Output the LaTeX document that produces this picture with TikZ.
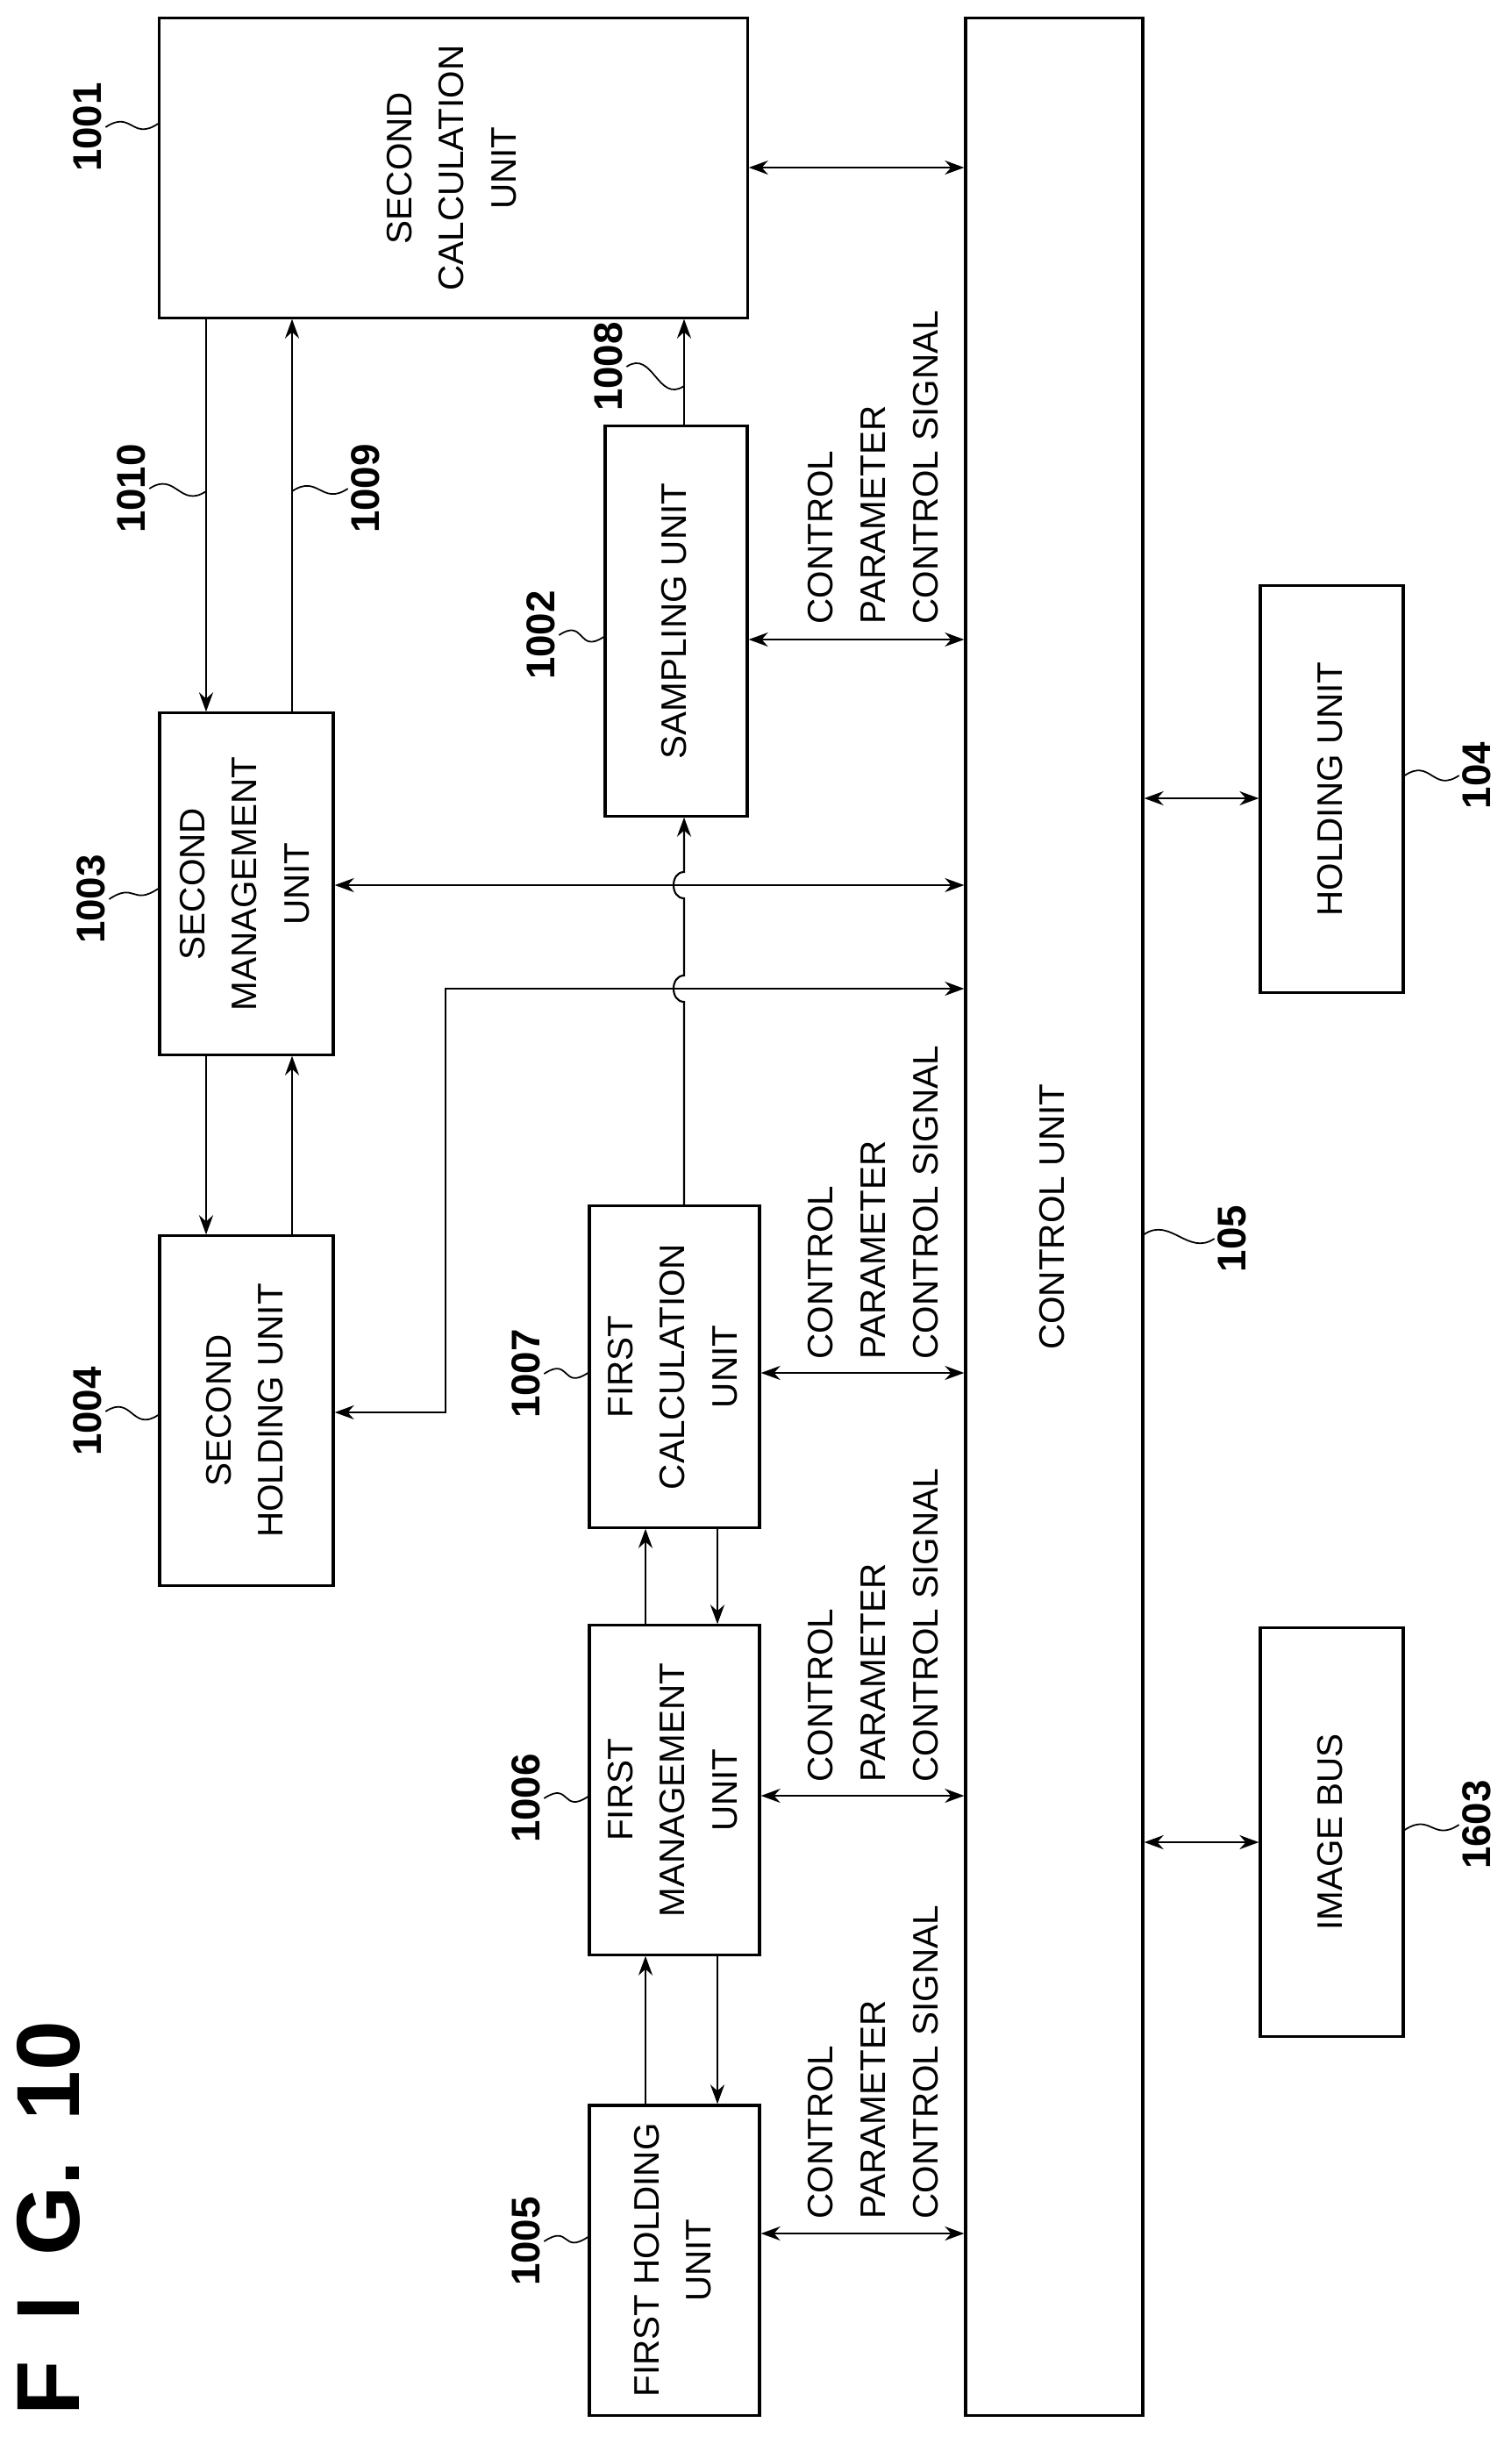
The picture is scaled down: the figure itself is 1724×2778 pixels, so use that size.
\documentclass[tikz,border=0pt]{standalone}
\usepackage{fontspec}
\setmainfont{Liberation Sans}
\usetikzlibrary{arrows.meta}
\tikzset{
  box/.style={draw,line width=0.9pt,inner sep=0pt,align=center},
  arr/.style={line width=0.6pt,-{Stealth[length=2.2mm,width=1.6mm]}},
  dbl/.style={line width=0.6pt,{Stealth[length=2.2mm,width=1.6mm]}-{Stealth[length=2.2mm,width=1.6mm]}},
  num/.style={inner sep=1pt,font=\fontsize{13}{15}\selectfont\bfseries},
  lead/.style={line width=0.5pt},
  sig/.style={inner sep=0pt,anchor=south east}
}
\newcommand{\vtext}[1]{\rotatebox{90}{\begin{tabular}{@{}c@{}}#1\end{tabular}}}
\newcommand{\sigtext}{\rotatebox{90}{\begin{tabular}{@{}l@{}}CONTROL\\PARAMETER\\CONTROL SIGNAL\end{tabular}}}
\begin{document}
\begin{tikzpicture}[x=0.01cm,y=-0.01cm,font=\fontsize{11.5}{17}\selectfont]
\useasboundingbox (0,0) rectangle (1724,2778);

% blocks
\node[box,minimum width=6.7cm,minimum height=3.41cm] (n1001) at (517,191.5) {\vtext{SECOND\\CALCULATION\\UNIT}};
\node[box,minimum width=2.02cm,minimum height=27.32cm] (n105) at (1202,1387) {\vtext{CONTROL UNIT}};
\node[box,minimum width=1.62cm,minimum height=4.44cm] (n1002) at (771,708) {\vtext{SAMPLING UNIT}};
\node[box,minimum width=1.98cm,minimum height=3.89cm] (n1003) at (281,1007.5) {\vtext{SECOND\\MANAGEMENT\\UNIT}};
\node[box,minimum width=1.98cm,minimum height=3.98cm] (n1004) at (281,1608) {\vtext{SECOND\\HOLDING UNIT}};
\node[box,minimum width=1.94cm,minimum height=3.66cm] (n1007) at (769,1558) {\vtext{FIRST\\CALCULATION\\UNIT}};
\node[box,minimum width=1.94cm,minimum height=3.75cm] (n1006) at (769,2040.5) {\vtext{FIRST\\MANAGEMENT\\UNIT}};
\node[box,minimum width=1.94cm,minimum height=3.53cm] (n1005) at (769,2576.5) {\vtext{FIRST HOLDING\\UNIT}};
\node[box,minimum width=1.63cm,minimum height=4.63cm] (n104) at (1518.5,899.5) {\vtext{HOLDING UNIT}};
\node[box,minimum width=1.63cm,minimum height=4.65cm] (n1603) at (1518.5,2088.5) {\vtext{IMAGE BUS}};

% signal labels
\node[sig] (s1002) at (1088,712) {\sigtext};
\node[sig] (s1007) at (1088,1550) {\sigtext};
\node[sig] (s1006) at (1088,2032) {\sigtext};
\node[sig] (s1005) at (1088,2530) {\sigtext};

% reference numbers
\node[num] (l1001) at (100,145) {\rotatebox{90}{1001}};
\node[num] (l1010) at (150,557) {\rotatebox{90}{1010}};
\node[num] (l1009) at (417,557) {\rotatebox{90}{1009}};
\node[num] (l1008) at (694,418) {\rotatebox{90}{1008}};
\node[num] (l1002) at (617,724) {\rotatebox{90}{1002}};
\node[num] (l1003) at (104,1025) {\rotatebox{90}{1003}};
\node[num] (l1004) at (100,1609) {\rotatebox{90}{1004}};
\node[num] (l1007) at (600,1566) {\rotatebox{90}{1007}};
\node[num] (l1006) at (600,2050) {\rotatebox{90}{1006}};
\node[num] (l1005) at (600,2555) {\rotatebox{90}{1005}};
\node[num] (l105) at (1405,1412) {\rotatebox{90}{105}};
\node[num] (l104) at (1684,884) {\rotatebox{90}{104}};
\node[num] (l1603) at (1684,2080) {\rotatebox{90}{1603}};
\node[inner sep=0pt,font=\fontsize{29}{30}\selectfont\bfseries] (fig) at (55,2529)
  {\rotatebox{90}{F\hspace{0.45em}I\hspace{0.45em}G.\hspace{0.45em}10}};

% connections
\draw[dbl] (n1001.east |- 0,191) -- (n105.west |- 0,191);
\draw[dbl] (n1002.east |- 0,729) -- (n105.west |- 0,729);
\draw[dbl] (n1007.east |- 0,1565) -- (n105.west |- 0,1565);
\draw[dbl] (n1006.east |- 0,2047) -- (n105.west |- 0,2047);
\draw[dbl] (n1005.east |- 0,2546) -- (n105.west |- 0,2546);
\draw[dbl] (n105.east |- 0,910) -- (n104.west |- 0,910);
\draw[dbl] (n105.east |- 0,2100) -- (n1603.west |- 0,2100);
\draw[dbl] (n1003.east |- 0,1009) -- (n105.west |- 0,1009);
\draw[dbl] (n1004.east |- 0,1610) -- (508,1610) -- (508,1127) -- (n105.west |- 0,1127);
\draw[arr] (235,0 |- n1001.south) -- (235,0 |- n1003.north);
\draw[arr] (333,0 |- n1003.north) -- (333,0 |- n1001.south);
\draw[arr] (235,0 |- n1003.south) -- (235,0 |- n1004.north);
\draw[arr] (333,0 |- n1004.north) -- (333,0 |- n1003.south);
\draw[arr] (780,0 |- n1002.north) -- (780,0 |- n1001.south);
\draw[arr] (736,0 |- n1006.north) -- (736,0 |- n1007.south);
\draw[arr] (736,0 |- n1005.north) -- (736,0 |- n1006.south);
\draw[arr] (818,0 |- n1007.south) -- (818,0 |- n1006.north);
\draw[arr] (818,0 |- n1006.south) -- (818,0 |- n1005.north);
\draw[arr] (780,0 |- n1007.north) -- (780,1142) .. controls (764,1142) and (764,1112) .. (780,1112)
  -- (780,1024) .. controls (764,1024) and (764,994) .. (780,994) -- (780,0 |- n1002.south);

% leaders
\draw[lead] (l1001.east) .. controls +(30,-20) and +(-30,20) .. (n1001.west |- 0,141);
\draw[lead] (l1010.east) .. controls +(30,-20) and +(-30,20) .. (235,560);
\draw[lead] (333,560) .. controls +(30,-20) and +(-30,20) .. (l1009.west);
\draw[lead] (l1008.east) .. controls +(30,-20) and +(-30,20) .. (780,440);
\draw[lead] (l1002.east) .. controls +(30,-20) and +(-30,20) .. (n1002.west |- 0,726);
\draw[lead] (l1003.east) .. controls +(30,-20) and +(-30,20) .. (n1003.west |- 0,1013);
\draw[lead] (l1004.east) .. controls +(30,-20) and +(-30,20) .. (n1004.west |- 0,1613);
\draw[lead] (l1007.east) .. controls +(30,-20) and +(-30,20) .. (n1007.west |- 0,1565);
\draw[lead] (l1006.east) .. controls +(30,-20) and +(-30,20) .. (n1006.west |- 0,2048);
\draw[lead] (l1005.east) .. controls +(30,-20) and +(-30,20) .. (n1005.west |- 0,2550);
\draw[lead] (n105.east |- 0,1407) .. controls +(30,-20) and +(-30,20) .. (l105.west);
\draw[lead] (n104.east |- 0,884) .. controls +(30,-20) and +(-30,20) .. (l104.west);
\draw[lead] (n1603.east |- 0,2086) .. controls +(30,-20) and +(-30,20) .. (l1603.west);
\end{tikzpicture}
\end{document}
